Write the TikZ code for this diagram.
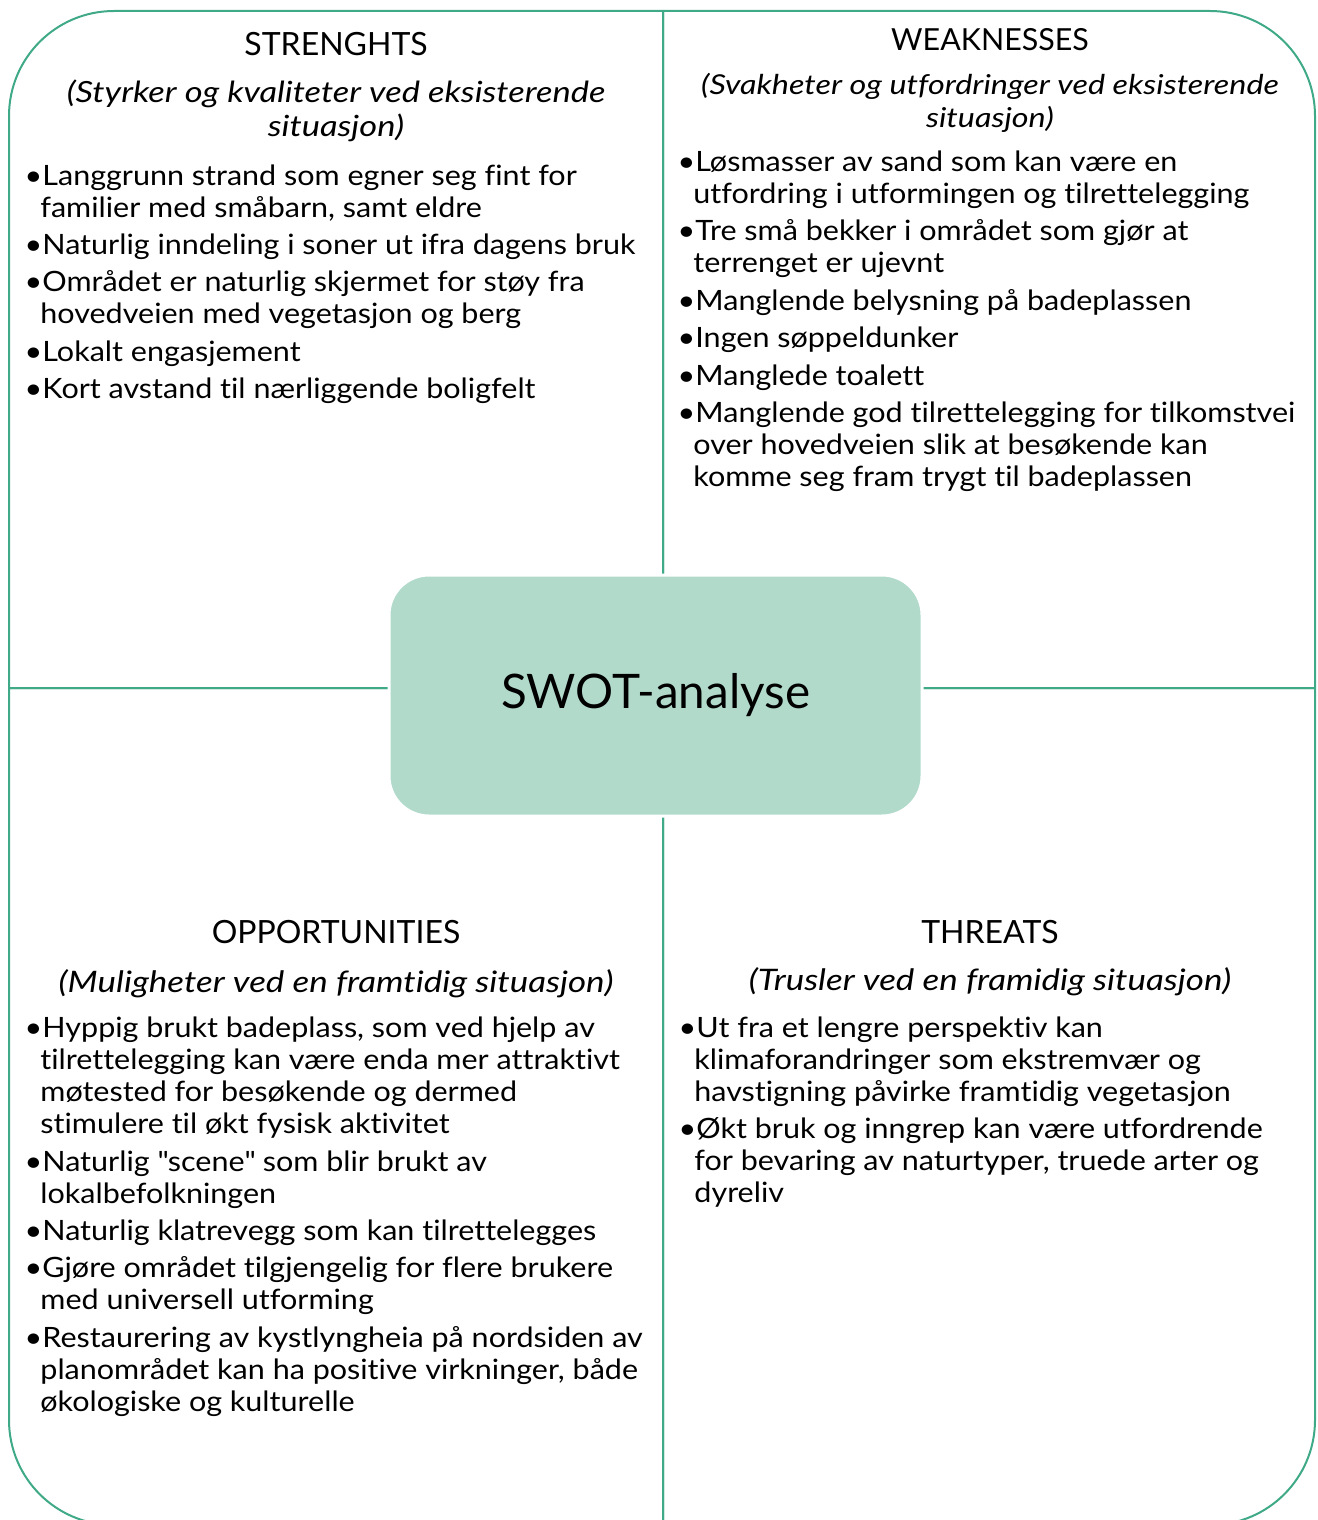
\documentclass[tikz,border=0pt]{standalone}
\usepackage{fontspec}
\setmainfont{Lato}[Ligatures=NoCommon]
\newfontfamily\bodyfont{Lato}[FakeStretch=1.09,Ligatures=NoCommon]
\newfontfamily\subfont{Lato}[FakeStretch=1.18,Ligatures=NoCommon]
\definecolor{swotline}{RGB}{64,170,136}
\definecolor{swotfill}{RGB}{177,218,203}
\newcommand\ilines[1]{\begin{tabular}[t]{@{}l@{}}#1\end{tabular}}
\newcommand\clines[1]{\begin{tabular}[t]{@{}c@{}}#1\end{tabular}}
\newcommand\bul{\llap{\textbullet\kern-1pt}\kern1pt}
\begin{document}
\begin{tikzpicture}[x=0.5pt,y=-0.5pt,
  quad/.style={draw=swotline,line width=1pt,line join=round},
  ttl/.style={font=\fontsize{16}{19}\selectfont,anchor=base,inner sep=0pt},
  subt/.style={font=\subfont\fontsize{14.6}{17}\selectfont\itshape,anchor=base,inner sep=0pt},
  itm/.style={font=\bodyfont\fontsize{14}{16}\selectfont,anchor=base west,inner sep=0pt},
  centerbox/.style={fill=swotfill,draw=white,line width=1.5pt,rounded corners=20pt,
    minimum width=266.5pt,minimum height=120.5pt,inner sep=0pt,
    font=\fontsize{23.8}{28}\selectfont}]
\clip (0,0) rectangle (1317,1520);
\fill[white] (0,0) rectangle (1317,1520);
% quadrants
\draw[quad] (663,688) -- (663,11) -- (114,11) .. controls (56,11) and (9,58) .. (9,116) -- (9,688) -- cycle;
\draw[quad] (663,688) -- (663,11) -- (1210,11) .. controls (1268,11) and (1315,58) .. (1315,116) -- (1315,688) -- cycle;
\draw[quad] (663,688) -- (9,688) -- (9,1420) .. controls (9,1478) and (56,1525) .. (114,1525) -- (663,1525) -- cycle;
\draw[quad] (663,688) -- (1315,688) -- (1315,1420) .. controls (1315,1478) and (1268,1525) .. (1210,1525) -- (663,1525) -- cycle;
% centre
\node[centerbox] (swot) at (655.5,695.5) {SWOT-analyse};
% strengths
\node[ttl] (sT) at (336,56) {STRENGHTS};
\node[subt] (sS) at (336,103) {\clines{(Styrker og kvaliteter ved eksisterende\\situasjon)}};
\node[itm] (s1) at (40,185) {\ilines{\bul Langgrunn strand som egner seg fint for\\familier med småbarn, samt eldre}};
\node[itm] (s2) at (40,254) {\ilines{\bul Naturlig inndeling i soner ut ifra dagens bruk}};
\node[itm] (s3) at (40,291) {\ilines{\bul Området er naturlig skjermet for støy fra\\hovedveien med vegetasjon og berg}};
\node[itm] (s4) at (40,361) {\ilines{\bul Lokalt engasjement}};
\node[itm] (s5) at (40,398) {\ilines{\bul Kort avstand til nærliggende boligfelt}};
% weaknesses
\node[ttl,font=\fontsize{15.2}{18}\selectfont] (wT) at (990,51) {WEAKNESSES};
\node[subt,font=\subfont\fontsize{13.7}{16.5}\selectfont\itshape] (wS) at (990,95) {\clines{(Svakheter og utfordringer ved eksisterende\\situasjon)}};
\node[itm] (w1) at (693,171) {\ilines{\bul Løsmasser av sand som kan være en\\utfordring i utformingen og tilrettelegging}};
\node[itm] (w2) at (693,240) {\ilines{\bul Tre små bekker i området som gjør at\\terrenget er ujevnt}};
\node[itm] (w3) at (693,310) {\ilines{\bul Manglende belysning på badeplassen}};
\node[itm] (w4) at (693,347) {\ilines{\bul Ingen søppeldunker}};
\node[itm] (w5) at (693,385) {\ilines{\bul Manglede toalett}};
\node[itm] (w6) at (693,422) {\ilines{\bul Manglende god tilrettelegging for tilkomstvei\\over hovedveien slik at besøkende kan\\komme seg fram trygt til badeplassen}};
% opportunities
\node[ttl] (oT) at (336,943) {OPPORTUNITIES};
\node[subt,font=\subfont\fontsize{14.8}{18}\selectfont\itshape] (oS) at (336,992) {(Muligheter ved en framtidig situasjon)};
\node[itm] (o1) at (40,1037) {\ilines{\bul Hyppig brukt badeplass, som ved hjelp av\\tilrettelegging kan være enda mer attraktivt\\møtested for besøkende og dermed\\stimulere til økt fysisk aktivitet}};
\node[itm] (o2) at (40,1171) {\ilines{\bul Naturlig \textquotedbl scene\textquotedbl{} som blir brukt av\\lokalbefolkningen}};
\node[itm] (o3) at (40,1240) {\ilines{\bul Naturlig klatrevegg som kan tilrettelegges}};
\node[itm] (o4) at (40,1277) {\ilines{\bul Gjøre området tilgjengelig for flere brukere\\med universell utforming}};
\node[itm] (o5) at (40,1347) {\ilines{\bul Restaurering av kystlyngheia på nordsiden av\\planområdet kan ha positive virkninger, både\\økologiske og kulturelle}};
% threats
\node[ttl] (tT) at (990,943) {THREATS};
\node[subt,font=\subfont\fontsize{14.8}{17}\selectfont\itshape] (tS) at (990,990) {(Trusler ved en framidig situasjon)};
\node[itm] (t1) at (694,1037) {\ilines{\bul Ut fra et lengre perspektiv kan\\klimaforandringer som ekstremvær og\\havstigning påvirke framtidig vegetasjon}};
\node[itm] (t2) at (694,1138) {\ilines{\bul Økt bruk og inngrep kan være utfordrende\\for bevaring av naturtyper, truede arter og\\dyreliv}};
\end{tikzpicture}
\end{document}
